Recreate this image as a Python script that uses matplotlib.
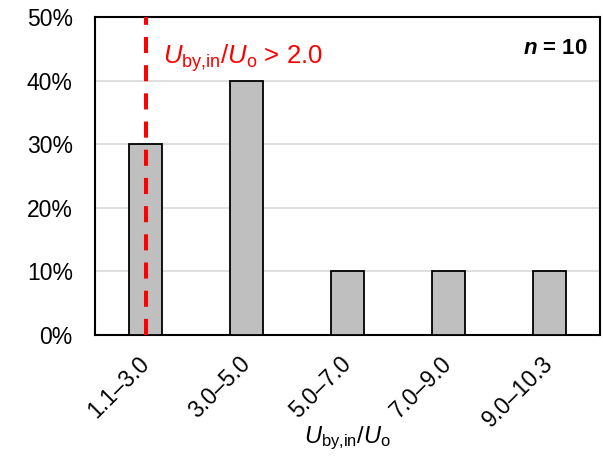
import matplotlib
matplotlib.use("Agg")
import matplotlib.pyplot as plt
from matplotlib.ticker import PercentFormatter

categories = ["1.1\u20133.0", "3.0\u20135.0", "5.0\u20137.0", "7.0\u20139.0", "9.0\u201310.3"]
values = [30, 40, 10, 10, 10]
yticks = [0, 10, 20, 30, 40, 50]

plt.rcParams['font.family'] = ['Liberation Sans', 'DejaVu Sans']
plt.rcParams['mathtext.fontset'] = 'custom'
plt.rcParams['mathtext.rm'] = 'Liberation Sans'
plt.rcParams['mathtext.it'] = 'Liberation Sans:italic'
plt.rcParams['mathtext.bf'] = 'Liberation Sans:bold:italic'

fig = plt.figure(figsize=(6.03, 4.58), dpi=100)
ax = fig.add_axes([95/603, 1-335/458, 505/603, (335-17)/458])

x = list(range(len(categories)))
ax.bar(x, values, width=0.326, color='#BFBFBF', edgecolor='black', linewidth=1.3, zorder=3)
ax.set_xlim(-0.5, len(categories)-0.5)
ax.set_ylim(0, 50)
ax.set_yticks(yticks)
ax.yaxis.set_major_formatter(PercentFormatter(decimals=0))
ax.grid(axis='y', color='#D9D9D9', linewidth=1.2, zorder=0)
ax.set_axisbelow(True)
for s in ax.spines.values():
    s.set_linewidth(1.5)
    s.set_color('black')
ax.tick_params(axis='y', length=0, labelsize=16.5, pad=16)
ax.set_xticks(x)
ax.set_xticklabels(categories, rotation=45, ha='right', va='center', rotation_mode='anchor')
ax.tick_params(axis='x', length=0, labelsize=16.5, pad=18)

ax.axvline(0, color='#FF0000', linestyle=(0, (4, 3)), linewidth=2.9, zorder=4)
ax.text(0.17, 43.6, r'$U_{\mathrm{by{,}in}}/U_{\mathrm{o}}$ > 2.0', color='#FF0000',
        fontsize=18.5, ha='left', va='center')
ax.text(4.38, 45.0, r'$\mathbf{n}$ = 10', fontsize=16, fontweight='bold',
        ha='right', va='center')

ax.set_xlabel(r'$U_{\mathrm{by{,}in}}/U_{\mathrm{o}}$', fontsize=17, va='baseline')
ax.xaxis.set_label_coords(0.5, -0.34)

fig.savefig('out.png', dpi=100)
